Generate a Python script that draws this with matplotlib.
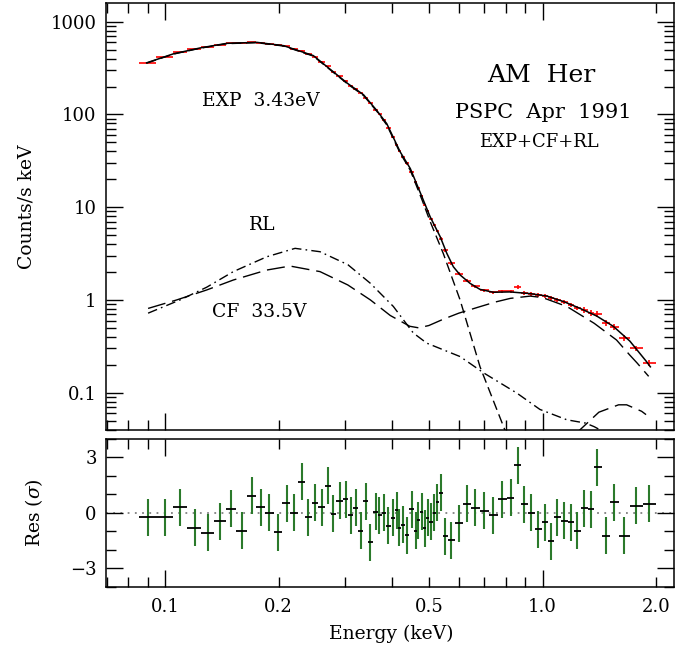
import numpy as np
import matplotlib
matplotlib.use("Agg")
import matplotlib.pyplot as plt
from matplotlib.ticker import LogLocator, FixedLocator, MultipleLocator, FuncFormatter, NullFormatter

# Spectral bins (keV), observed flux (counts/s keV), relative errors, residuals (sigma)
energy = np.array([
    0.0900, 0.1000, 0.1096, 0.1199, 0.1298, 0.1399, 0.1496, 0.1597, 0.1697, 0.1797,
    0.1890, 0.1996, 0.2099, 0.2197, 0.2303, 0.2398, 0.2497, 0.2598, 0.2699, 0.2792,
    0.2900, 0.3008, 0.3105, 0.3207, 0.3301, 0.3409, 0.3493, 0.3623, 0.3697, 0.3805,
    0.3906, 0.4012, 0.4111, 0.4177, 0.4280, 0.4370, 0.4506, 0.4617, 0.4691, 0.4789,
    0.4886, 0.4968, 0.5069, 0.5163, 0.5268, 0.5388, 0.5531, 0.5737, 0.6002, 0.6302,
    0.6637, 0.7016, 0.7413, 0.7831, 0.8241, 0.8602, 0.8940, 0.9311, 0.9752, 1.016,
    1.052, 1.095, 1.141, 1.189, 1.237, 1.290, 1.343, 1.398, 1.472, 1.550,
    1.648, 1.767, 1.916])
flux = np.array([
    362, 419, 468, 503, 535, 566, 587, 587, 600, 591,
    576, 556, 541, 506, 482, 448, 419, 368, 330, 289,
    257, 229, 205, 188, 169, 152, 132, 113, 102, 87,
    72, 57.6, 47.3, 40.5, 34.4, 29.6, 23.9, 18.5, 16.0, 13.1,
    10.6, 9.0, 7.43, 6.46, 5.53, 4.58, 3.42, 2.48, 1.92, 1.62,
    1.41, 1.27, 1.21, 1.24, 1.24, 1.37, 1.19, 1.17, 1.12, 1.10,
    1.04, 1.01, 0.95, 0.885, 0.82, 0.78, 0.72, 0.71, 0.565, 0.51,
    0.39, 0.30, 0.21])
rel_err = np.array([
    0.015, 0.015, 0.015, 0.015, 0.015, 0.015, 0.015, 0.015, 0.015, 0.015,
    0.015, 0.015, 0.015, 0.018, 0.018, 0.018, 0.018, 0.018, 0.018, 0.018,
    0.018, 0.018, 0.018, 0.018, 0.018, 0.018, 0.018, 0.018, 0.018, 0.018,
    0.025, 0.025, 0.025, 0.025, 0.025, 0.025, 0.025, 0.025, 0.025, 0.025,
    0.025, 0.025, 0.025, 0.025, 0.025, 0.04, 0.04, 0.04, 0.04, 0.04,
    0.04, 0.04, 0.04, 0.04, 0.04, 0.05, 0.05, 0.05, 0.05, 0.05,
    0.05, 0.05, 0.05, 0.05, 0.05, 0.07, 0.07, 0.07, 0.07, 0.07,
    0.07, 0.07, 0.07])
resid = np.array([
    -0.22, -0.23, 0.30, -0.80, -1.06, -0.44, 0.24, -0.95, 0.93, 0.31,
    0.00, -1.04, 0.52, 0.00, 1.69, -0.22, 0.55, 0.32, 1.47, -0.05,
    0.65, 0.73, -0.13, 0.28, -0.95, 0.64, -1.59, 0.06, -0.13, 0.00,
    -0.69, -0.25, 0.15, -0.80, -0.64, -1.19, 0.20, -0.95, -0.40, 0.06,
    -0.82, -0.27, -0.46, 0.00, 0.59, 1.10, -1.26, -1.46, -0.55, 0.49,
    0.29, 0.11, -0.11, 0.73, 0.82, 2.57, 0.46, 0.02, -0.88, -0.49,
    -1.52, -0.22, -0.42, -0.49, -0.97, 0.26, 0.20, 2.47, -1.24, 0.59,
    -1.22, 0.39, 0.51])

# Model curves
model_E = [0.0894, 0.1052, 0.1238, 0.1457, 0.1750, 0.2059, 0.2471, 0.3050, 0.3357, 0.3641,
           0.3868, 0.4198, 0.4464, 0.4795, 0.5039, 0.5357, 0.5578, 0.5804, 0.6048, 0.6426,
           0.6827, 0.7405, 0.8207, 0.9278, 1.028, 1.137, 1.258, 1.392, 1.539, 1.703,
           1.884, 1.930]
model_total = [360, 450, 521, 584, 599, 552, 431, 215, 163, 110,
               79.4, 39.4, 26.1, 12.9, 7.87, 4.8, 3.18, 2.28, 1.86, 1.51,
               1.30, 1.21, 1.22, 1.17, 1.10, 0.96, 0.81, 0.67, 0.52, 0.36,
               0.217, 0.19]

exp_E = [0.0894, 0.1052, 0.1238, 0.1457, 0.1750, 0.2059, 0.2471, 0.3050, 0.3357, 0.3641,
         0.3868, 0.4198, 0.4464, 0.4795, 0.5039, 0.5457, 0.5873, 0.6048, 0.6367, 0.6830,
         0.7940, 0.8200]
exp_flux = [358, 447, 517, 580, 594, 547, 426, 212, 160, 108,
            77, 38.2, 25.0, 12.0, 7.0, 3.18, 1.39, 1.0, 0.496, 0.19,
            0.04, 0.03]

cf_E = [0.0902, 0.1074, 0.1289, 0.1517, 0.1860, 0.2144, 0.2574, 0.3050, 0.3500, 0.3950,
        0.4450, 0.4700, 0.5000, 0.5460, 0.6000, 0.6720, 0.7500, 0.8220, 0.9280, 1.000,
        1.160, 1.370, 1.570, 1.700, 1.780, 1.910]
cf_flux = [0.81, 1.0, 1.28, 1.64, 2.10, 2.32, 2.02, 1.45, 1.0, 0.68,
           0.52, 0.50, 0.53, 0.62, 0.72, 0.83, 0.95, 1.04, 1.10, 1.06,
           0.85, 0.56, 0.37, 0.256, 0.209, 0.15]

rl_E = [0.0902, 0.1096, 0.1289, 0.1517, 0.1860, 0.2211, 0.2574, 0.3050, 0.3500, 0.4026,
        0.4547, 0.4936, 0.6050, 0.6990, 0.8550, 0.9840, 1.160, 1.300, 1.370, 1.450]
rl_flux = [0.72, 1.0, 1.37, 2.02, 2.92, 3.6, 3.31, 2.4, 1.51, 0.85,
           0.44, 0.342, 0.245, 0.163, 0.099, 0.066, 0.051, 0.047, 0.043, 0.038]

rl_hi_E = [1.22, 1.25, 1.41, 1.59, 1.67, 1.83, 1.88]
rl_hi_flux = [0.035, 0.039, 0.0616, 0.074, 0.074, 0.063, 0.058]

xtick_vals = [0.1, 0.2, 0.5, 1.0, 2.0]
xtick_text = ["0.1", "0.2", "0.5", "1.0", "2.0"]

plt.rcParams["font.family"] = ["DejaVu Serif"]
plt.rcParams["mathtext.fontset"] = "dejavuserif"

fig = plt.figure(figsize=(6.99, 6.52), dpi=100)
ax = fig.add_axes([0.1517, 0.3405, 0.8126, 0.6549])
ar = fig.add_axes([0.1517, 0.0997, 0.8126, 0.2270])

# bin half-widths from neighbouring bins
mid = np.sqrt(energy[1:] * energy[:-1])
lo = np.concatenate([[energy[0] ** 2 / mid[0]], mid])
hi = np.concatenate([mid, [energy[-1] ** 2 / mid[-1]]])
xerr = [energy - lo, hi - energy]

# top panel: data + model
ax.errorbar(energy, flux, xerr=xerr, yerr=flux * rel_err, fmt="none",
            ecolor="red", elinewidth=1.2, capsize=0, zorder=2)
ax.plot(model_E, model_total, color="black", lw=1.1, zorder=3)
ax.plot(exp_E, exp_flux, color="black", lw=1.0, dashes=(7, 3.5), zorder=3)
ax.plot(cf_E, cf_flux, color="black", lw=1.0, dashes=(13, 5), zorder=3)
ax.plot(rl_E, rl_flux, color="black", lw=1.0, dashes=(7, 3, 1.2, 3), zorder=3)
ax.plot(rl_hi_E, rl_hi_flux, color="black", lw=1.0, dashes=(13, 5), zorder=3)

ax.set_yscale("log")
ax.set_ylim(0.0396, 1591)

# residuals
ar.axhline(0, color="gray", lw=1.3, ls=(0, (1, 3)), zorder=1)
ar.errorbar(energy, resid, yerr=1.0, fmt="none", ecolor="#2b7a2b",
            elinewidth=1.5, capsize=0, zorder=2)
ar.errorbar(energy, resid, xerr=xerr, fmt="none", ecolor="black",
            elinewidth=1.3, capsize=0, zorder=3)
ar.set_ylim(-4, 4)
ar.yaxis.set_major_locator(FixedLocator([-3, 0, 3]))
ar.yaxis.set_minor_locator(MultipleLocator(1))


def xlab(v, pos):
    for tv, tt in zip(xtick_vals, xtick_text):
        if abs(v - tv) < 1e-6 * tv + 1e-9:
            return tt
    return ""


for a in (ax, ar):
    a.set_xscale("log")
    a.set_xlim(0.0698, 2.23)
    a.xaxis.set_major_locator(LogLocator(base=10, numticks=10))
    a.xaxis.set_minor_locator(LogLocator(base=10, subs=np.arange(2, 10), numticks=10))
    a.tick_params(which="both", direction="in", top=True, right=True,
                  width=1.0, labelsize=13, color="black")
    a.tick_params(which="major", length=12)
    a.tick_params(which="minor", length=7)
    a.tick_params(axis="y", which="both", pad=6.7)
    a.tick_params(axis="x", which="both", pad=8)
    for s in a.spines.values():
        s.set_linewidth(1.1)

ax.yaxis.set_major_formatter(FuncFormatter(lambda v, p: f"{v:g}"))
ax.yaxis.set_minor_formatter(NullFormatter())
ax.tick_params(axis="x", which="both", labelbottom=False)
ar.xaxis.set_major_formatter(FuncFormatter(xlab))
ar.xaxis.set_minor_formatter(FuncFormatter(xlab))

ax.set_ylabel("Counts/s keV", fontsize=13.5)
ax.yaxis.set_label_coords(-0.125, 0.522)
ar.set_ylabel(r"Res ($\sigma$)", fontsize=13.5)
ar.yaxis.set_label_coords(-0.107, 0.5)
ar.set_xlabel("Energy (keV)", fontsize=13.5)
ar.xaxis.set_label_coords(0.502, -0.257)

# annotations
ax.text(0.766, 0.815, "AM  Her", transform=ax.transAxes, ha="center", va="baseline", fontsize=18)
ax.text(0.769, 0.7307, "PSPC  Apr  1991", transform=ax.transAxes, ha="center", va="baseline", fontsize=15)
ax.text(0.762, 0.6635, "EXP+CF+RL", transform=ax.transAxes, ha="center", va="baseline", fontsize=13)
ax.text(0.273, 0.7588, "EXP  3.43eV", transform=ax.transAxes, ha="center", va="baseline", fontsize=13.5)
ax.text(0.275, 0.4684, "RL", transform=ax.transAxes, ha="center", va="baseline", fontsize=13.5)
ax.text(0.269, 0.2646, "CF  33.5V", transform=ax.transAxes, ha="center", va="baseline", fontsize=13.5)

fig.savefig("out.png", dpi=100)
